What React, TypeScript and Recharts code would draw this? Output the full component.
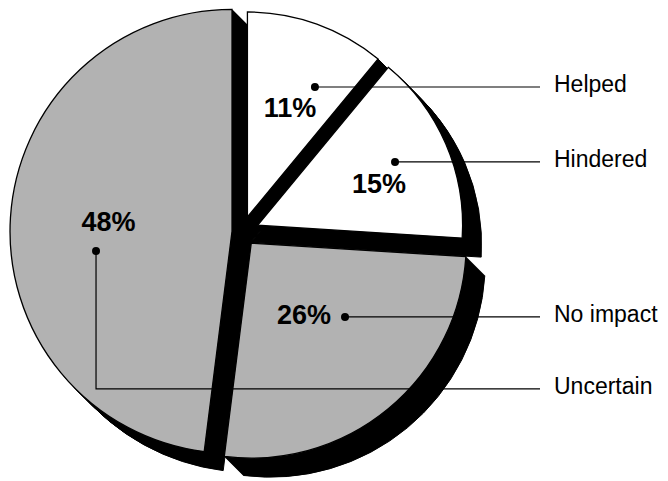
import React from 'react';
import { PieChart, Pie, Sector } from 'recharts';

// ---- data ----
const categories = ['Helped', 'Hindered', 'No impact', 'Uncertain'];
const shares = [11, 15, 26, 48];
const shareLabels = ['11%', '15%', '26%', '48%'];

const data = categories.map((name, i) => ({ name, value: shares[i] }));

// ---- layout / style ----
const W = 668;
const H = 481;
const CX = 242;
const CY = 232;
const R = 222;
const FONT = '"Liberation Sans", Arial, Helvetica, sans-serif';
const GRAY = '#b2b2b2';
const sliceFills = ['#ffffff', '#ffffff', GRAY, GRAY];
const sliceExplode = [16, 17, 14.5, 10];
const sliceRadius = [205, 205, 215, 222];
const DEPTH = 19;
const CORE_R = 28;
const LEADER_END = 540;
const NAME_X = 554;
const anchors = [
  { dAngle: -6.9, r: 162.3, tx: -25, ty: 30, down: 0 },
  { dAngle: 1.2, r: 168.3, tx: -16, ty: 31, down: 0 },
  { dAngle: 10.9, r: 133.5, tx: -41, ty: 7, down: 0 },
  { dAngle: 11.0, r: 147.2, tx: 12.5, ty: -20, down: 138 },
];

const RAD = Math.PI / 180;
const idxOf = (p: any) => categories.indexOf(p?.payload?.name ?? p?.name);

function geom(p: any) {
  const i = idxOf(p);
  const e = sliceExplode[i];
  return {
    i,
    x: p.cx + e * Math.cos(-p.midAngle * RAD),
    y: p.cy + e * Math.sin(-p.midAngle * RAD),
    r: sliceRadius[i],
  };
}

const ShadowShape = (p: any) => {
  const g = geom(p);
  const layers: React.ReactNode[] = [];
  layers.push(
    <Sector
      key="core"
      cx={p.cx + DEPTH / 2}
      cy={p.cy + DEPTH / 2}
      innerRadius={0}
      outerRadius={CORE_R}
      startAngle={p.startAngle}
      endAngle={p.endAngle}
      fill="#000"
      stroke="#000"
      strokeWidth={1}
    />
  );
  for (let k = 1; k <= DEPTH; k++) {
    layers.push(
      <Sector
        key={k}
        cx={g.x + k}
        cy={g.y + k}
        innerRadius={0}
        outerRadius={g.r}
        startAngle={p.startAngle}
        endAngle={p.endAngle}
        fill="#000"
        stroke="#000"
        strokeWidth={1}
      />
    );
  }
  return <g>{layers}</g>;
};

const SliceShape = (p: any) => {
  const g = geom(p);
  return (
    <Sector
      cx={g.x}
      cy={g.y}
      innerRadius={0}
      outerRadius={g.r}
      startAngle={p.startAngle}
      endAngle={p.endAngle}
      fill={sliceFills[g.i]}
      stroke="#000"
      strokeWidth={1.3}
    />
  );
};

const Annotation = (p: any) => {
  const i = idxOf(p);
  const a = anchors[i];
  const ang = (p.midAngle + a.dAngle) * RAD;
  const dx = p.cx + a.r * Math.cos(-ang);
  const dy = p.cy + a.r * Math.sin(-ang);
  const ly = dy + a.down;
  const pts = a.down
    ? `${dx},${dy} ${dx},${ly} ${LEADER_END},${ly}`
    : `${dx},${dy} ${LEADER_END},${ly}`;
  return (
    <g key={`ann-${i}`}>
      <polyline points={pts} fill="none" stroke="#000" strokeWidth={1.2} />
      <circle cx={dx} cy={dy} r={4} fill="#000" />
      <text
        x={dx + a.tx}
        y={dy + a.ty}
        textAnchor="middle"
        fontFamily={FONT}
        fontWeight="bold"
        fontSize={27}
        fill="#000"
      >
        {shareLabels[i]}
      </text>
      <text x={NAME_X} y={ly + 5} fontFamily={FONT} fontSize={23} fill="#000">
        {categories[i]}
      </text>
    </g>
  );
};

export default function App() {
  return (
    <div style={{ position: 'absolute', left: 0, top: 0, width: W, height: H, background: '#fff' }}>
      <PieChart width={W} height={H} margin={{ top: 0, right: 0, bottom: 0, left: 0 }}>
        <Pie
          data={data}
          dataKey="value"
          nameKey="name"
          cx={CX}
          cy={CY}
          innerRadius={0}
          outerRadius={R}
          startAngle={90}
          endAngle={-270}
          stroke="none"
          isAnimationActive={false}
          shape={ShadowShape}
        />
        <Pie
          data={data}
          dataKey="value"
          nameKey="name"
          cx={CX}
          cy={CY}
          innerRadius={0}
          outerRadius={R}
          startAngle={90}
          endAngle={-270}
          stroke="none"
          isAnimationActive={false}
          shape={SliceShape}
          label={Annotation}
          labelLine={false}
        />
      </PieChart>
    </div>
  );
}
